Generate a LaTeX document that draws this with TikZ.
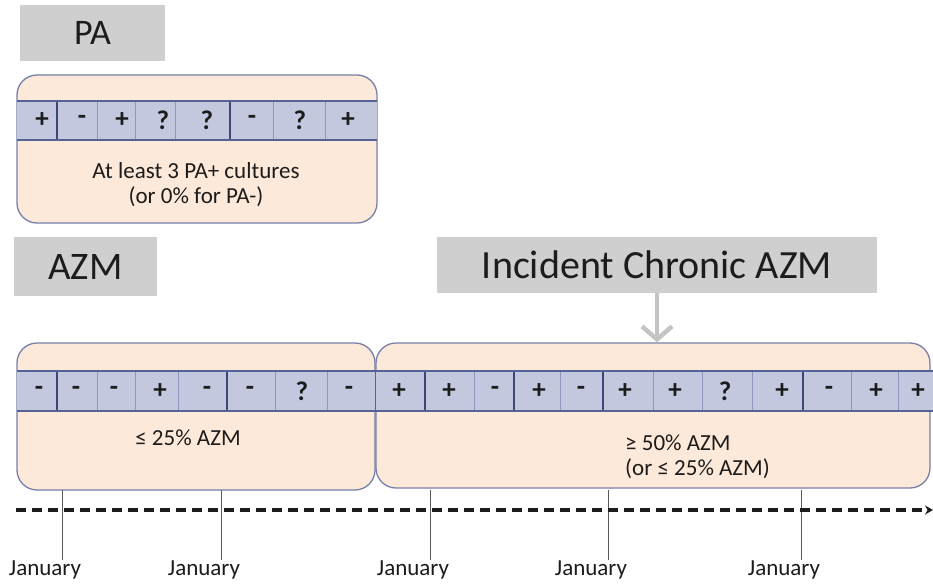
\documentclass[tikz,border=0pt]{standalone}
\usepackage{fontspec}
\setmainfont{Carlito}
\usetikzlibrary{arrows.meta}
\definecolor{peach}{RGB}{253,233,217}
\definecolor{panelline}{RGB}{118,128,168}
\definecolor{stripfill}{RGB}{196,200,222}
\definecolor{stripline}{RGB}{84,98,150}
\definecolor{thinsep}{RGB}{140,150,190}
\definecolor{thicksep}{RGB}{60,72,122}
\definecolor{labelgray}{RGB}{208,207,208}
\definecolor{arrowgray}{RGB}{196,196,196}
\definecolor{ink}{RGB}{28,28,28}
\tikzset{
  labelbox/.style={fill=labelgray, inner sep=0pt, text=ink},
  panel/.style={draw=panelline, line width=1.3pt, fill=peach, rounded corners=20pt, inner sep=0pt},
  sym/.style={font=\fontsize{27}{27}\selectfont\bfseries, text=ink, inner sep=0pt},
  body/.style={font=\fontsize{23}{25}\selectfont, text=ink, inner sep=0pt},
  jan/.style={font=\fontsize{23}{23}\selectfont, text=ink, inner sep=0pt},
  tickline/.style={draw=black!65, line width=0.9pt},
  timeline/.style={draw=ink, line width=3.2pt, dash pattern=on 10pt off 6pt, -{Stealth[length=8pt,width=9pt]}},
  stripedge/.style={draw=stripline, line width=1.4pt},
  thinsepline/.style={draw=thinsep, line width=0.9pt},
  thicksepline/.style={draw=thicksep, line width=1.8pt},
  grayarrow/.style={draw=arrowgray, line width=4.5pt, -{Straight Barb[length=13pt,width=30pt,line width=4.5pt]}}
}
\begin{document}
\begin{tikzpicture}[x=1pt,y=-1pt]
\useasboundingbox (0,0) rectangle (933,583);

% label boxes
\node[labelbox, minimum width=145pt, minimum height=56pt, font=\fontsize{36}{36}\selectfont] (pa) at (92.5,33) {PA};
\node[labelbox, minimum width=143pt, minimum height=59pt, font=\fontsize{39}{39}\selectfont] (azm) at (85.5,266.5) {AZM};
\node[labelbox, minimum width=440pt, minimum height=56pt, font=\fontsize{40}{40}\selectfont] (inc) at (657,265) {Incident Chronic AZM};

% panels
\node[panel, minimum width=360pt, minimum height=148pt] (papanel) at (197,149) {};
\node[panel, minimum width=358pt, minimum height=147pt] (lpanel) at (196,416.5) {};
\node[panel, minimum width=554pt, minimum height=145pt] (rpanel) at (653,415.5) {};

% arrow
\draw[grayarrow] (inc.south) -- (inc.south |- rpanel.north);

% PA strip
\fill[stripfill] (17,101) rectangle (377,140);
\foreach \x in {97,135,175,273,325} \draw[thinsepline] (\x,101) -- (\x,140);
\foreach \x in {57,230} \draw[thicksepline] (\x,101) -- (\x,141);
\draw[stripedge] (17,101) -- (377,101);
\draw[stripedge] (17,140) -- (377,140);

% AZM strip
\fill[stripfill] (17,371) rectangle (933,411);
\foreach \x in {97,135,178,275,327,474,560,653,702,752,851,898} \draw[thinsepline] (\x,371) -- (\x,411);
\foreach \x in {57,227,425,514,603,803} \draw[thicksepline] (\x,371) -- (\x,412);
\draw[draw=stripline, line width=1.2pt] (375.5,371) -- (375.5,411);
\draw[stripedge] (17,371) -- (933,371);
\draw[stripedge] (17,411) -- (933,411);

% PA symbols
\node[sym] (p1) at (42,120) {+};
\node[sym] (p2) at (82,120) {-};
\node[sym] (p3) at (122,120) {+};
\node[sym] (p4) at (163,120) {?};
\node[sym] (p5) at (207,120) {?};
\node[sym] (p6) at (252,120) {-};
\node[sym] (p7) at (300,120) {?};
\node[sym] (p8) at (348,120) {+};

% AZM symbols
\node[sym] (a1) at (39,391) {-};
\node[sym] (a2) at (76,391) {-};
\node[sym] (a3) at (114,391) {-};
\node[sym] (a4) at (160,391) {+};
\node[sym] (a5) at (207,391) {-};
\node[sym] (a6) at (250,391) {-};
\node[sym] (a7) at (302,391) {?};
\node[sym] (a8) at (349,391) {-};
\node[sym] (a9) at (399,391) {+};
\node[sym] (a10) at (449,391) {+};
\node[sym] (a11) at (495,391) {-};
\node[sym] (a12) at (539,391) {+};
\node[sym] (a13) at (581,391) {-};
\node[sym] (a14) at (625,391) {+};
\node[sym] (a15) at (675,391) {+};
\node[sym] (a16) at (725,391) {?};
\node[sym] (a17) at (782,391) {+};
\node[sym] (a18) at (829,391) {-};
\node[sym] (a19) at (876,391) {+};
\node[sym] (a20) at (918,391) {+};

% panel texts
\node[body, align=center] (patext) at (196,184.5) {At least 3 PA+ cultures\\(or 0\% for PA-)};
\node[body] (ltext) at (188,438) {≤ 25\% AZM};
\node[body, align=left, anchor=west] (rtext) at (625,456.5) {≥ 50\% AZM\\(or ≤ 25\% AZM)};

% ticks
\foreach \i/\x in {1/62,2/221,3/430,4/608,5/801}{
  \coordinate (tt\i) at (\x,490);
  \coordinate (tb\i) at (\x,560);
  \draw[tickline] (tt\i) -- (tb\i);
  \node[jan] (jan\i) at (\x-17,570) {January};
}

% timeline
\coordinate (tl0) at (16,510);
\coordinate (tl1) at (933,510);
\draw[timeline] (tl0) -- (tl1);
\end{tikzpicture}
\end{document}
